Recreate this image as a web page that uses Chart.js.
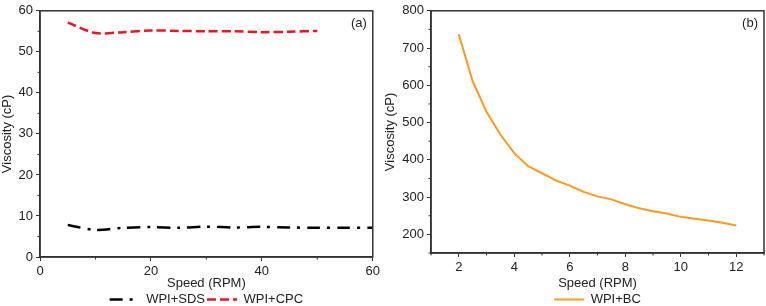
<!DOCTYPE html>
<html>
<head>
<meta charset="utf-8">
<script src="https://cdn.jsdelivr.net/npm/chart.js@4.4.1/dist/chart.umd.min.js"></script>
<style>
  html, body { margin: 0; padding: 0; background: #fff; }
  .wrap { position: absolute; top: 0; width: 383px; height: 306px; overflow: hidden; }
  #left { left: 0; }
  #right { left: 383px; }
  .wrap div { position: relative; width: 383px; height: 316px; }
</style>
</head>
<body>
<div class="wrap" id="left"><div><canvas id="chartA"></canvas></div></div>
<div class="wrap" id="right"><div><canvas id="chartB"></canvas></div></div>
<script>
  // panel (a)
  const speedSDS = [5, 10, 15, 20, 25, 30, 35, 40, 45, 50, 55, 60];
  const viscSDS = [7.8, 6.6, 7.1, 7.3, 7.1, 7.4, 7.2, 7.35, 7.2, 7.1, 7.15, 7.15];
  const speedCPC = [5, 10, 15, 20, 25, 30, 35, 40, 45, 50];
  const viscCPC = [57.1, 54.6, 54.8, 55.2, 55.1, 55.0, 55.0, 54.8, 54.9, 55.1];

  // panel (b)
  const speedBC = [2, 2.5, 3, 3.5, 4, 4.5, 5, 5.5, 6, 6.5, 7, 7.5, 8, 8.5, 9, 9.5, 10, 10.5, 11, 11.5, 12];
  const viscBC = [737, 611, 529, 468, 418, 383, 364, 345, 331, 314, 302, 294, 281, 270, 262, 256, 247, 242, 237, 231, 224];

  const FONT = "'Liberation Sans', Arial, sans-serif";
  const AXIS = "#333";

  Chart.defaults.font.family = FONT;
  Chart.defaults.font.size = 13;
  Chart.defaults.color = "#222";

  function toXY(xs, ys) {
    return xs.map((x, i) => ({ x: x, y: ys[i] }));
  }

  // box around the plot, minor ticks and the panel tag
  function framePlugin(tag, xMinor, yMinor) {
    return {
      id: "frame" + tag,
      afterDraw(chart) {
        const ctx = chart.ctx;
        const a = chart.chartArea;
        const xs = chart.scales.x;
        const ys = chart.scales.y;
        ctx.save();
        ctx.strokeStyle = AXIS;
        ctx.lineWidth = 1.5;
        ctx.strokeRect(a.left, a.top, a.right - a.left, a.bottom - a.top);
        ctx.lineWidth = 1;
        ctx.beginPath();
        xMinor.forEach((v) => {
          const px = xs.getPixelForValue(v);
          ctx.moveTo(px, a.bottom);
          ctx.lineTo(px, a.bottom + 2.5);
        });
        yMinor.forEach((v) => {
          const py = ys.getPixelForValue(v);
          ctx.moveTo(a.left, py);
          ctx.lineTo(a.left - 2.5, py);
        });
        ctx.stroke();
        ctx.fillStyle = "#222";
        ctx.font = "13px " + FONT;
        ctx.textAlign = "right";
        ctx.textBaseline = "middle";
        ctx.fillText(tag, a.right - 6, a.top + 13);
        ctx.restore();
      },
    };
  }

  function axisOpts(min, max, step, fitSize, title, horizontal) {
    return {
      type: "linear",
      min: min,
      max: max,
      border: { display: true, color: AXIS, width: 1.5 },
      grid: { drawOnChartArea: false, drawTicks: true, tickLength: 4, tickColor: AXIS, tickWidth: 1 },
      ticks: { stepSize: step, padding: 3, color: "#222", font: { size: 13 }, maxRotation: 0 },
      title: { display: true, text: title, color: "#222", font: { size: 13 }, padding: { top: 0, bottom: 0 } },
      afterFit(scale) {
        if (horizontal) scale.height = fitSize;
        else scale.width = fitSize;
      },
    };
  }

  const legendOpts = {
    position: "bottom",
    fullSize: false,
    labels: {
      usePointStyle: true,
      pointStyle: "line",
      pointStyleWidth: 30,
      padding: 2,
      color: "#222",
      font: { size: 13 },
      generateLabels(chart) {
        const items = Chart.defaults.plugins.legend.labels.generateLabels(chart);
        items.forEach((item) => {
          const ds = chart.data.datasets[item.datasetIndex];
          item.lineDash = ds.borderDash || [];
          item.lineWidth = ds.borderWidth;
          item.strokeStyle = ds.borderColor;
        });
        return items;
      },
    },
  };

  new Chart(document.getElementById("chartA"), {
    type: "line",
    data: {
      datasets: [
        {
          label: "WPI+SDS",
          data: toXY(speedSDS, viscSDS),
          borderColor: "#000",
          borderWidth: 2.5,
          borderDash: [13, 7, 3, 7],
          pointRadius: 0,
          tension: 0.3,
        },
        {
          label: "WPI+CPC",
          data: toXY(speedCPC, viscCPC),
          borderColor: "#f0141e",
          borderWidth: 2.5,
          borderDash: [9, 4],
          pointRadius: 0,
          tension: 0.3,
        },
      ],
    },
    options: {
      responsive: true,
      maintainAspectRatio: false,
      animation: false,
      layout: { padding: { left: 0, right: 8, top: 9, bottom: 0 } },
      plugins: { legend: legendOpts, tooltip: { enabled: false } },
      scales: {
        x: axisOpts(0, 60, 20, 34, "Speed (RPM)", true),
        y: axisOpts(0, 60, 10, 40, "Viscosity (cP)", false),
      },
    },
    plugins: [framePlugin("(a)", [10, 30, 50], [5, 15, 25, 35, 45, 55])],
  });

  new Chart(document.getElementById("chartB"), {
    type: "line",
    data: {
      datasets: [
        {
          label: "WPI+BC",
          data: toXY(speedBC, viscBC),
          borderColor: "#ff9a1e",
          borderWidth: 2,
          pointRadius: 0,
          tension: 0,
        },
      ],
    },
    options: {
      responsive: true,
      maintainAspectRatio: false,
      animation: false,
      layout: { padding: { left: 0, right: 2, top: 6, bottom: 0 } },
      plugins: { legend: legendOpts, tooltip: { enabled: false } },
      scales: {
        x: Object.assign(axisOpts(1, 13, 2, 38, "Speed (RPM)", true), {
          afterBuildTicks(scale) {
            scale.ticks = [2, 4, 6, 8, 10, 12].map((v) => ({ value: v }));
          },
        }),
        y: Object.assign(axisOpts(150, 800, 100, 48, "Viscosity (cP)", false), {
          afterBuildTicks(scale) {
            scale.ticks = [200, 300, 400, 500, 600, 700, 800].map((v) => ({ value: v }));
          },
        }),
      },
    },
    plugins: [framePlugin("(b)", [1, 3, 5, 7, 9, 11, 13], [150, 250, 350, 450, 550, 650, 750])],
  });
</script>
</body>
</html>
